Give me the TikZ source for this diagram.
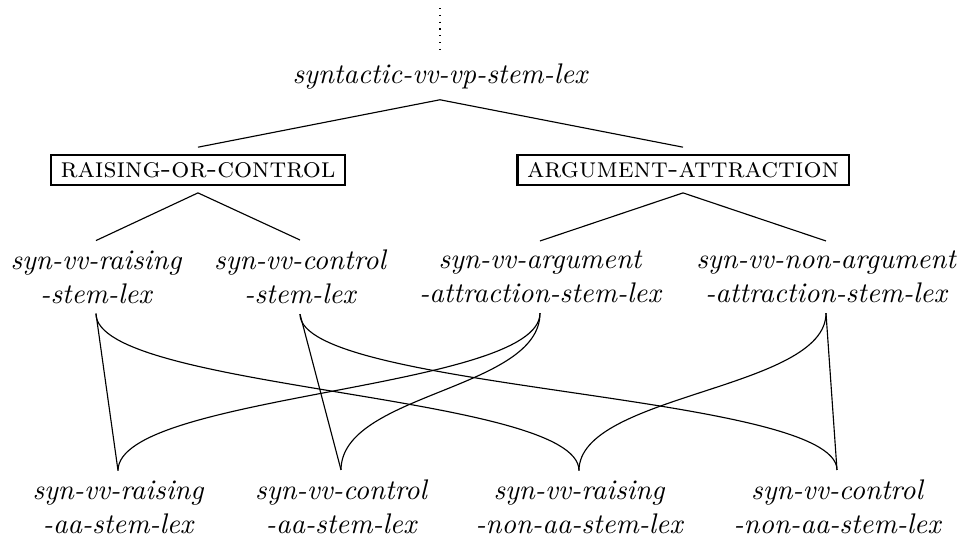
\documentclass[tikz,border=0pt]{standalone}
\tikzset{
  mtype/.style  = {align=center, font=\itshape, inner sep=3.33pt},
  mpart/.style  = {draw, line width=0.8pt, font=\scshape, inner xsep=3.4pt,
                   inner ysep=2pt, minimum height=10.5pt, outer sep=2.8pt},
  link/.style   = {draw=black, line width=0.4pt},
  % cross links leave and enter their nodes vertically
  mcross/.style = {link},
}

\begin{document}
\begin{tikzpicture}
    \useasboundingbox (0,0) rectangle (11.922,-6.685);

    \node[mtype] (top) at (5.447, -0.953) {syntactic-vv-vp-stem-lex};
    \coordinate (up) at (5.447, -0.099);

    \node[mpart] (rc) at (2.451, -2.105) {raising-or-control};
    \node[mpart] (aa) at (8.456, -2.105) {argument-attraction};

    \node[mtype] (rs) at (1.188, -3.43)  {syn-vv-raising\\-stem-lex};
    \node[mtype] (cs) at (3.714, -3.43)  {syn-vv-control\\-stem-lex};
    \node[mtype] (as) at (6.685, -3.43)  {syn-vv-argument\\-attraction-stem-lex};
    \node[mtype] (ns) at (10.226, -3.43) {syn-vv-non-argument\\-attraction-stem-lex};

    \node[mtype] (ra) at (1.461, -6.277)  {syn-vv-raising\\-aa-stem-lex};
    \node[mtype] (ca) at (4.222, -6.277)  {syn-vv-control\\-aa-stem-lex};
    \node[mtype] (rn) at (7.168, -6.277)  {syn-vv-raising\\-non-aa-stem-lex};
    \node[mtype] (cn) at (10.362, -6.277) {syn-vv-control\\-non-aa-stem-lex};

    \draw[link, dotted] (up) -- (top.north);

    \draw[link] (top.south) -- (rc.north);
    \draw[link] (top.south) -- (aa.north);
    \draw[link] (rc.south) -- (rs.north);
    \draw[link] (rc.south) -- (cs.north);
    \draw[link] (aa.south) -- (as.north);
    \draw[link] (aa.south) -- (ns.north);

    \draw[link] (rs.south) -- (ra.north);
    \draw[link] (cs.south) -- (ca.north);
    \draw[link] (ns.south) -- (cn.north);

    \draw[mcross] (rs.south) .. controls +(0,-0.95) and +(0,0.95) .. (rn.north);
    \draw[mcross] (cs.south) .. controls +(0,-0.95) and +(0,0.95) .. (cn.north);
    \draw[mcross] (as.south) .. controls +(0,-0.95) and +(0,0.95) .. (ra.north);
    \draw[mcross] (as.south) .. controls +(0,-0.95) and +(0,0.95) .. (ca.north);
    \draw[mcross] (ns.south) .. controls +(0,-0.95) and +(0,0.95) .. (rn.north);
  \end{tikzpicture}
\end{document}
